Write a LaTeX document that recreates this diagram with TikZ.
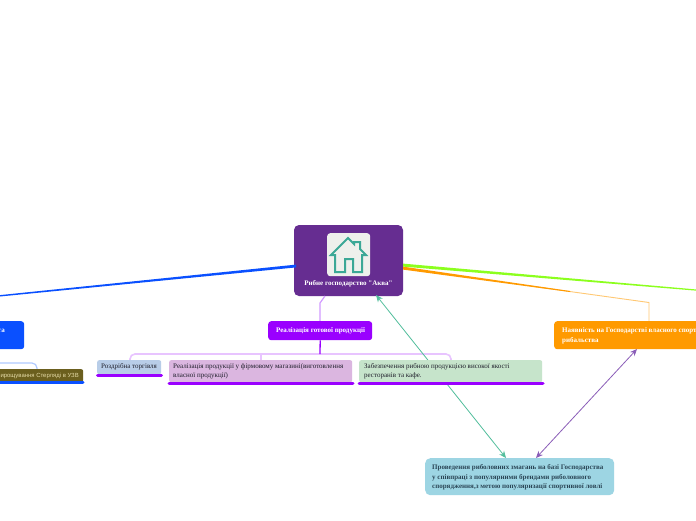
\documentclass[tikz,border=0pt]{standalone}
\usepackage{fontspec}
\setmainfont[Ligatures=TeXOff]{Liberation Serif}
\setsansfont{Liberation Sans}
\usetikzlibrary{arrows.meta}
\definecolor{cCenter}{HTML}{662D91}
\definecolor{cPurple}{HTML}{9A00FF}
\definecolor{cLilac}{HTML}{E8C4FF}
\definecolor{cMid}{HTML}{D29AFF}
\definecolor{cBlue}{HTML}{0A50FF}
\definecolor{cLBlue}{HTML}{B0CAFF}
\definecolor{cOrange}{HTML}{FF9A00}
\definecolor{cLOrange}{HTML}{FFC873}
\definecolor{cGreen}{HTML}{8CFF1E}
\definecolor{cTeal}{HTML}{52BE9C}
\definecolor{cViolet}{HTML}{8A5DB8}
\definecolor{cIcon}{HTML}{3BA896}
\definecolor{cIconBg}{HTML}{EEF0EC}
\definecolor{cDark}{HTML}{1E1E2A}
\definecolor{cSlate}{HTML}{2B4656}
\definecolor{cRetail}{HTML}{B8CDE8}
\definecolor{cShop}{HTML}{DBB6E0}
\definecolor{cRest}{HTML}{C6E4CB}
\definecolor{cCompete}{HTML}{9DD5E3}
\definecolor{cOlive}{HTML}{6B5F1E}
\definecolor{cTan}{HTML}{E6DCA8}
\tikzset{
 box/.style={rounded corners=#1,draw=none,inner sep=0pt,anchor=north west},
 box/.default=3pt,
 lab/.style={inner sep=0pt,anchor=west,align=left,font=\fontsize{7}{9.8}\selectfont\bfseries},
 light/.style={inner sep=0pt,anchor=west,align=left,font=\fontsize{7}{9.4}\selectfont,text=cDark},
 under/.style={line width=3pt,line cap=round},
 branch/.style={line width=1.6pt,rounded corners=5pt},
 rel/.style={line width=.8pt,{Stealth[length=7pt,width=6pt]}-{Stealth[length=7pt,width=6pt]}}
}
\begin{document}
\begin{tikzpicture}[x=1pt,y=-1pt]
\useasboundingbox (0,0) rectangle (696,520);
\clip (0,0) rectangle (696,520);
\fill[white] (0,0) rectangle (696,520);
\path[fill=cCenter,rounded corners=5pt] (294,225) rectangle (403,296);
\coordinate (cB) at (325,296);
\coordinate (cBr) at (376,295);
% main branches (tapered)
\fill[cBlue] (296,264.6) -- (296,267.4) -- (-2,296.7) -- (-2,295.3) -- cycle;
\fill[cGreen] (403,263.6) -- (403,266.6) -- (698,290.8) -- (698,289.6) -- cycle;
\draw[cLOrange,line width=.9pt] (530,286) -- (649,302.5) -- (649,321);
\fill[cOrange] (403,266.6) -- (403,269.6) -- (570,292) -- (570,291) -- cycle;
\draw[cMid,line width=1.2pt] (cB) -- (320,303) -- (320,321);
% sub-branches
\coordinate (hubR) at (320,354);
\draw[cLilac,branch] (130,360) -- (130,354) -- (451,354) -- (451,360);
\draw[cLilac,branch] (261,360) -- (261,354);
\draw[cLBlue,line width=1.2pt,rounded corners=5pt] (37,369) -- (37,363) -- (-2,363);
% relations
\coordinate (botT1) at (506,458);
\coordinate (botT2) at (536,458);
\coordinate (navB) at (637,349);
\draw[cTeal,rel] (cBr) -- (botT1);
\draw[cViolet,rel] (navB) -- (botT2);
% nodes
\node[box,fill=cPurple,minimum width=104pt,minimum height=19pt] (real) at (268,321) {};
\node[lab,text=white] at (276,330.5) {Реалізація готової продукції};
\node[box,fill=cOrange,minimum width=170pt,minimum height=28pt] (nav) at (554,321) {};
\node[lab,text=white] (navt) at (562,335.5) {Наявність на Господарстві власного спортивного\\рибальства};
\node[box,fill=cBlue,minimum width=50pt,minimum height=28pt] (left) at (-26,321) {};
\node[lab,text=white,anchor=east] at (5,331) {та};
\draw[cPurple,line width=1.3pt] (real.south) -- (hubR);
% children
\node[box=2pt,fill=cRetail,minimum width=64pt,minimum height=14pt] (c1) at (97,360) {};
\node[light] at (101,367) {Роздрібна торгівля};
\draw[cPurple,under] (97.5,375.3) -- (161.5,375.3);
\node[box=2pt,fill=cShop,minimum width=183pt,minimum height=22pt] (c2) at (169,360) {};
\node[light] at (173,371.5) {Реалізація продукції у фірмовому магазині(виготовлення\\власної продукції)};
\draw[cPurple,under] (169,383) -- (353,383);
\node[box=2pt,fill=cRest,minimum width=183pt,minimum height=22pt] (c3) at (359,360) {};
\node[light] at (364,371.5) {Забезпечення рибною продукцією високої якості\\ресторанів та кафе.};
\draw[cPurple,under] (359,383) -- (543,383);
\node[box=2pt,fill=cOlive,minimum width=120pt,minimum height=13pt] (ol) at (-37,369) {};
\node[inner sep=0pt,anchor=east,font=\sffamily\fontsize{5.95}{7}\selectfont,text=cTan] at (79,375.5) {Вирощування Стерляді в УЗВ};
\draw[cBlue,under] (-2,382.7) -- (83,382.7);
% bottom node
\node[box=5pt,fill=cCompete,minimum width=189pt,minimum height=37pt] (bot) at (425,458) {};
\node[lab,text=cSlate] at (432,477.3) {Проведення риболовних змагань на базі Господарства\\у співпраці з популярними брендами риболовного\\спорядження,з метою популяризації спортивної ловлі};
% centre
\node[box=3pt,fill=cIconBg,minimum width=43pt,minimum height=43pt] (icon) at (327,233) {};
\draw[cIcon,line width=2pt,line join=miter] (331,255) -- (348,238) -- (354,244) -- (354,242) -- (360,242) -- (360,249) -- (366,255) -- (362,255) -- (362,272) -- (353,272) -- (353,259) -- (345,259) -- (345,272) -- (335,272) -- (335,255) -- cycle;
\node[lab,text=white,anchor=center] (ct) at (348.5,283.5) {Рибне господарство "Аква"};
\end{tikzpicture}
\end{document}
